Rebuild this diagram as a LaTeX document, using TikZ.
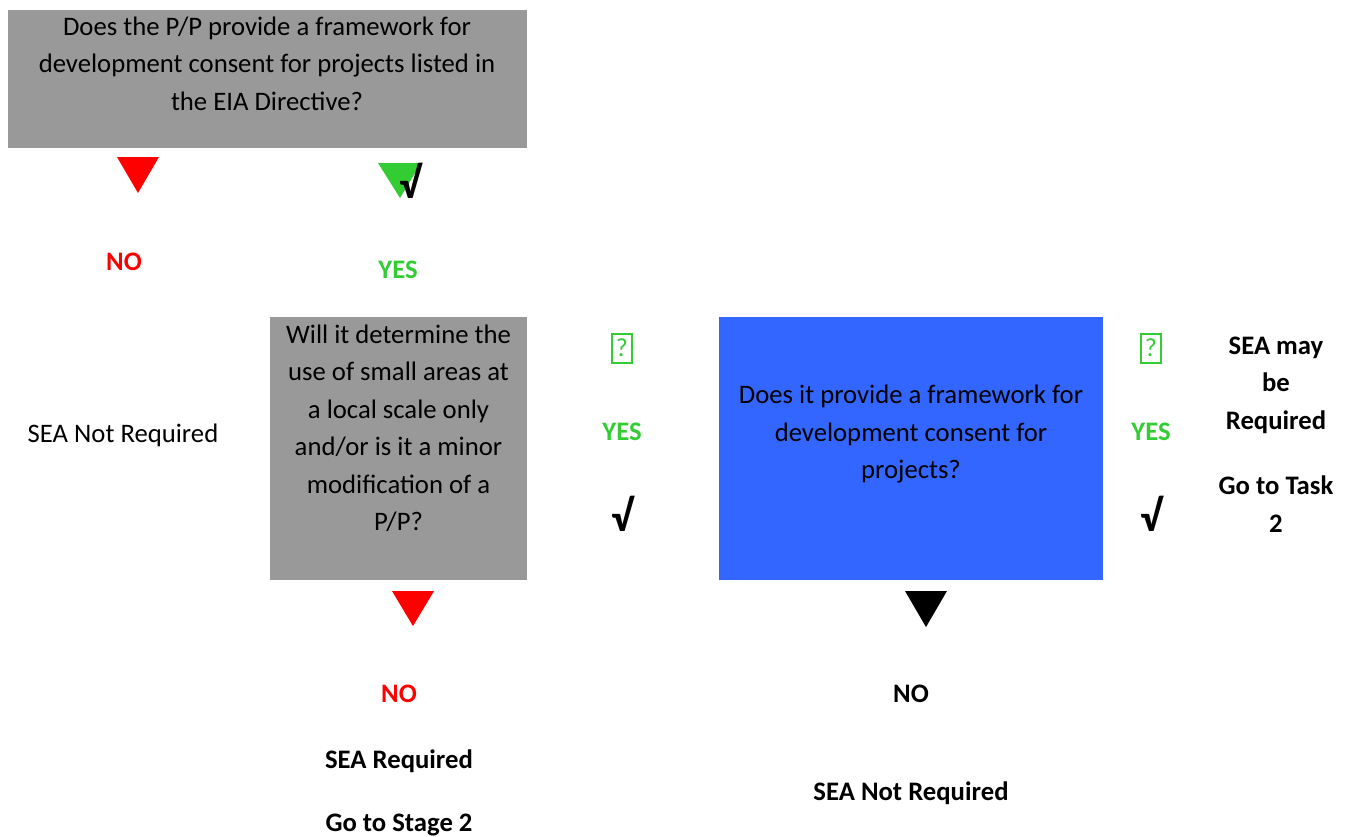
\documentclass[tikz,border=0pt]{standalone}
\usepackage{fontspec}
\setmainfont{Carlito}
\definecolor{boxgray}{HTML}{999999}
\definecolor{boxblue}{HTML}{3366FF}
\definecolor{yesgreen}{HTML}{33CC33}
\definecolor{nored}{HTML}{FF0000}
\tikzset{
  txt/.style={font=\fontsize{26.7}{37.5}\selectfont, align=center, inner sep=0pt},
  btxt/.style={font=\fontsize{26.7}{37.5}\selectfont\bfseries, align=center, inner sep=0pt},
  panel/.style={anchor=north west, inner sep=0pt},
  qmark/.style={draw=yesgreen, line width=2pt, text=yesgreen, minimum width=20pt,
    minimum height=29pt, inner sep=0pt, font=\fontsize{26}{28}\selectfont},
  tick/.style={font=\fontsize{44}{44}\selectfont\bfseries, inner sep=0pt},
}
\begin{document}
\begin{tikzpicture}[x=1pt,y=-1pt]
\useasboundingbox (0,0) rectangle (1352,836);

% question panels
\node[panel, fill=boxgray, minimum width=519pt, minimum height=138pt] (q1) at (8,10) {};
\node[txt] (q1t) at (267,63.5) {Does the P/P provide a framework for\\development consent for projects listed in\\the EIA Directive?};

\node[panel, fill=boxgray, minimum width=257pt, minimum height=263pt] (q2) at (270,317) {};
\node[txt] (q2t) at (398.5,428.5) {Will it determine the\\use of small areas at\\a local scale only\\and/or is it a minor\\modification of a\\P/P?};

\node[panel, fill=boxblue, minimum width=384pt, minimum height=263pt] (q3) at (719,317) {};
\node[txt] (q3t) at (911,434.5) {Does it provide a framework for\\development consent for\\projects?};

% downward markers
\coordinate (a1) at (138,157);
\fill[nored] (a1) ++(-21,0) -- ++(42,0) -- ++(-21,36) -- cycle;
\coordinate (a2) at (399,163);
\fill[yesgreen] (a2) ++(-21,0) -- ++(43,0) -- ++(-21,35) -- cycle;
\node[tick] (k0) at (410,181) {√};
\coordinate (a3) at (413,591);
\fill[nored] (a3) ++(-21,0) -- ++(42,0) -- ++(-21,35) -- cycle;
\coordinate (a4) at (926,591);
\fill[black] (a4) ++(-21,0) -- ++(42,0) -- ++(-21,36) -- cycle;

% first answers
\node[btxt, text=nored] (n1) at (124,261.5) {NO};
\node[btxt, text=yesgreen] (y1) at (398,269.5) {YES};
\node[txt] (r1) at (123,435.5) {SEA Not Required};

% middle column
\node[qmark] (m1) at (622,348) {?};
\node[btxt, text=yesgreen] (y2) at (622,431.5) {YES};
\node[tick] (k1) at (622,514) {√};

% right column
\node[qmark] (m2) at (1151,348) {?};
\node[btxt, text=yesgreen] (y3) at (1151,431.5) {YES};
\node[tick] (k2) at (1151,514) {√};
\node[btxt] (r4) at (1276,385) {SEA may\\be\\Required};
\node[btxt] (r5) at (1276,504) {Go to Task\\2};

% lower answers
\node[btxt, text=nored] (n2) at (399,693.5) {NO};
\node[btxt] (r2) at (399,761.5) {SEA Required};
\node[btxt] (r3) at (399,824.5) {Go to Stage 2};
\node[btxt] (n3) at (911,693.5) {NO};
\node[btxt] (r6) at (911,793.5) {SEA Not Required};
\end{tikzpicture}
\end{document}
